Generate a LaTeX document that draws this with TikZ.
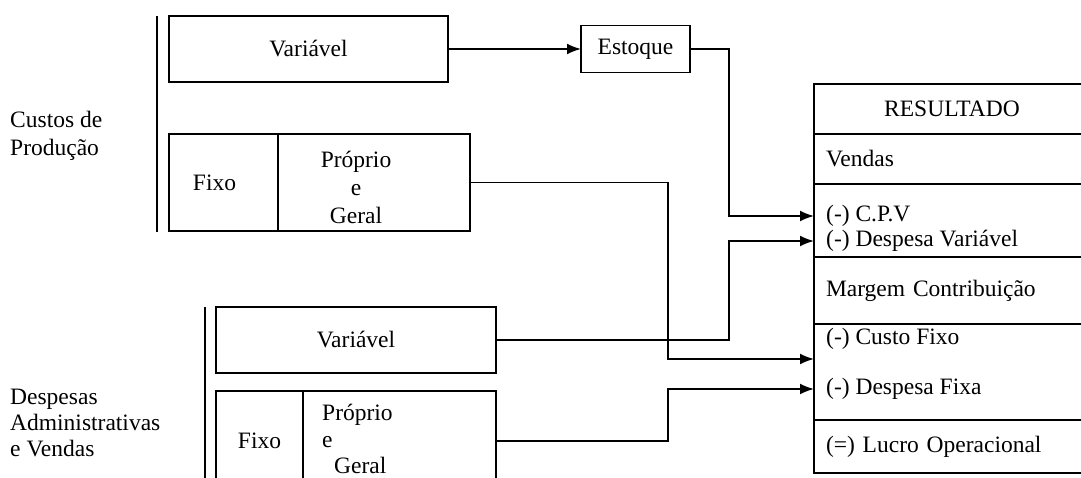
\documentclass[tikz,border=0pt]{standalone}
\usepackage{fontspec}
\setmainfont{Liberation Serif}
\usetikzlibrary{arrows.meta,positioning,calc}

\tikzset{
  caixa/.style={draw, line width=1.8pt, inner sep=0pt, outer sep=0pt},
  linha/.style={line width=1.8pt},
  seta/.style={linha, -{Latex[length=14pt,width=11pt]}},
  item/.style={anchor=west, inner sep=0pt},
  linhares/.style={caixa, anchor=north west, minimum width=276, text width=252pt,
    inner xsep=12pt, align=left},
}

\begin{document}
\begin{tikzpicture}[x=1pt, y=-1pt, font=\fontsize{23.5}{27}\selectfont]
\useasboundingbox (0,0) rectangle (1081,478);
\clip (0,0) rectangle (1081,478);

% custos de producao
\node[item, align=left, font=\fontsize{23.5}{28}\selectfont] (custos) at (10,136) {Custos de\\Produção};
\coordinate (bc1) at (157,16);
\coordinate (bc2) at (157,232);
\draw[linha] (bc1) -- (bc2);
\node[caixa, minimum width=279, minimum height=66] (cvar) at (308.5,49) {Variável};
\node[caixa, minimum width=109, minimum height=97] (cfixo) at (223.5,182.5) {\hspace*{-18pt}Fixo};
\node[caixa, minimum width=192, minimum height=97, right=0pt of cfixo] (cgeral) {};
\node[align=center, font=\fontsize{23.5}{28}\selectfont] (cgeraltxt) at (356,187) {Próprio\\e\\Geral};

\node[caixa, minimum width=109, minimum height=47] (estoque) at (635.5,49) {Estoque};

% despesas
\node[item, align=left, font=\fontsize{23.5}{26}\selectfont] (despesas) at (10,423) {Despesas\\Administrativas\\e Vendas};
\coordinate (bd1) at (205,307);
\coordinate (bd2) at (205,482);
\draw[linha] (bd1) -- (bd2);
\node[caixa, minimum width=280, minimum height=66] (dvar) at (356,340) {Variável};
\node[caixa, minimum width=87, minimum height=100] (dfixo) at (259.5,441) {Fixo};
\node[caixa, minimum width=193, minimum height=100, right=0pt of dfixo] (dgeral) {};
\node[item, align=left, font=\fontsize{23.5}{26.5}\selectfont] (dgeraltxt) at (322,439) {Próprio\\e\\\hspace*{12pt}Geral};

% resultado
\node[linhares, minimum height=50, align=center] (rtit) at (814,84) {RESULTADO};
\node[linhares, minimum height=50] (rvendas) at (rtit.south west) {Vendas};
\node[linhares, minimum height=73] (rcmv) at (rvendas.south west) {};
\node[linhares, minimum height=67] (rmargem) at (rcmv.south west) {Margem Contribuição};
\node[linhares, minimum height=96] (rfixos) at (rmargem.south west) {};
\node[linhares, minimum height=53] (rlucro) at (rfixos.south west) {(=) Lucro Operacional};

\node[item] (tcpv) at (826,216) {(-) C.P.V};
\node[item] (tdvar) at (826,241) {(-) Despesa Variável};
\node[item] (tcfixo) at (826,339) {(-) Custo Fixo};
\node[item] (tdfixo) at (826,389) {(-) Despesa Fixa};
\coordinate (pcfixo) at ($(tcfixo.west)!0.4!(tdfixo.west)$);

% ligacoes
\draw[seta] (cvar.east) -- (estoque.west);
\draw[seta] (estoque.east) -- ++(39,0) |- (tcpv.west -| rcmv.west);
\draw[seta] (cgeral.east) -- ++(198,0) |- (pcfixo -| rfixos.west);
\draw[seta] (dvar.east) -- ++(233,0) |- (tdvar.west -| rcmv.west);
\draw[seta] (dgeral.east) -- ++(172,0) |- (tdfixo.west -| rfixos.west);
\end{tikzpicture}
\end{document}
